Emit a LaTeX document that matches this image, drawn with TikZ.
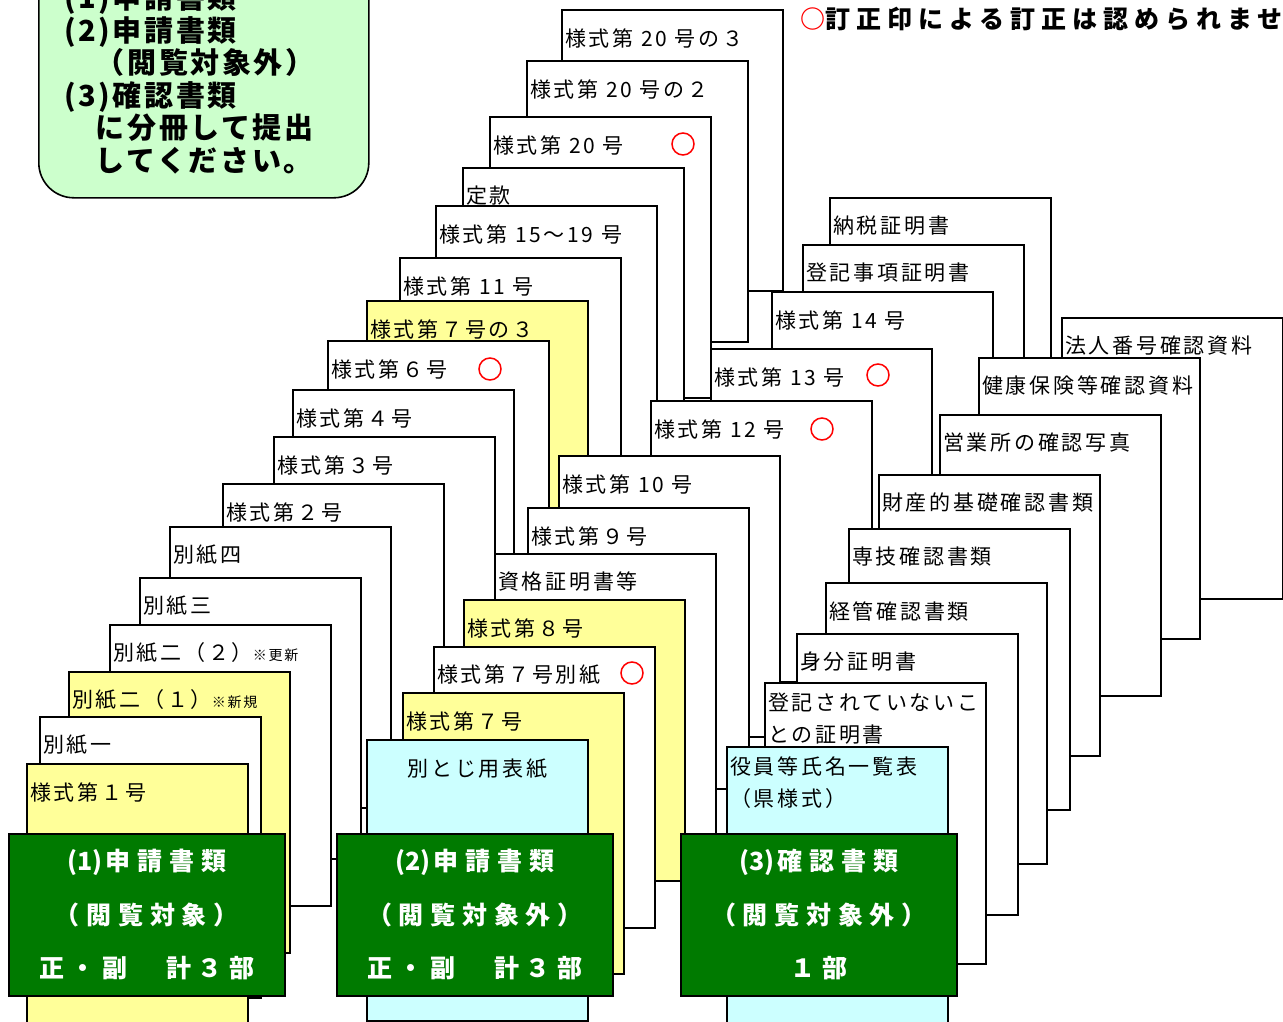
\documentclass[tikz,border=0pt]{standalone}
\usepackage{fontspec}
\setmainfont{Noto Sans CJK JP}
\newfontfamily\sheetfont[LetterSpace=13]{Noto Sans CJK JP}
\newfontfamily\coverfont[LetterSpace=27]{Noto Sans CJK JP}
\newfontfamily\tightfont{Noto Sans CJK JP}
\newfontfamily\notefont[LetterSpace=9]{Noto Sans CJK JP}
\newfontfamily\titlefont[LetterSpace=24]{Noto Sans CJK JP}
\usetikzlibrary{calc}
\definecolor{formyellow}{RGB}{255,255,153}
\definecolor{formcyan}{RGB}{204,255,255}
\definecolor{covergreen}{RGB}{0,122,0}
\definecolor{notegreen}{RGB}{204,255,204}
\newcommand{\smallnote}{\fontsize{14}{16}\selectfont}
\newcommand{\volno}[1]{{\tightfont\bfseries(#1)\hspace{3pt}}}
\tikzset{
  sheet/.style={draw, line width=1.6pt, anchor=north west, minimum width=221pt, minimum height=281pt, inner sep=0pt, outer sep=0pt},
  sheetlabel/.style={anchor=west, inner sep=0pt, align=left, font=\sheetfont\fontsize{21}{32}\selectfont},
  redring/.style={draw=red, line width=1.5pt, circle, minimum size=22pt, inner sep=0pt},
  cover/.style={draw, line width=1.6pt, fill=covergreen, anchor=north west, minimum width=276pt, minimum height=162pt, text=white, align=center, font=\coverfont\bfseries\fontsize{25}{53.5}\selectfont},
  notebox/.style={draw, line width=1.6pt, fill=notegreen, rounded corners=35pt, anchor=north west, minimum width=330pt, minimum height=237pt},
  notetext/.style={anchor=west, inner sep=0pt, align=left, font=\notefont\bfseries\fontsize{29}{32.5}\selectfont},
  titletext/.style={anchor=west, inner sep=0pt, font=\titlefont\bfseries\fontsize{25}{30}\selectfont}
}
% sheet: [label drop] name, x, y, fill, label
\newcommand{\drawsheet}[6][28]{%
  \node[sheet, fill=#5] (#2) at (#3,#4) {};
  \node[sheetlabel] (#2-label) at ([xshift=3pt, yshift=-#1pt]#2.north west) {#6};
}

\begin{document}
\begin{tikzpicture}[x=1pt, y=-1pt]
  \useasboundingbox (0,0) rectangle (1283,1022);

  \node[notebox] (note) at (38,-40) {};
  \node[notetext] (note-text) at (64,79) {(1)申請書類\\(2)申請書類\\　（閲覧対象外）\\(3)確認書類\\　に分冊して提出\\　してください。};
  \node[titletext] (notice) at (800,19) {\textcolor{red}{○}訂正印による訂正は認められませ};

  % sheets from back to front
  \drawsheet{f20c}{562}{10}{white}{様式第 20 号の３}
  \drawsheet{f20b}{527}{61}{white}{様式第 20 号の２}
  \drawsheet{f20}{490}{117}{white}{様式第 20 号}
  \drawsheet{teikan}{463}{168}{white}{定款}
  \drawsheet{nozei}{830}{198}{white}{納税証明書}
  \drawsheet{f15}{436}{206}{white}{様式第 15～19 号}
  \drawsheet{toki}{803}{245}{white}{登記事項証明書}
  \drawsheet{f11}{400}{258}{white}{様式第 11 号}
  \drawsheet{f14}{772}{292}{white}{様式第 14 号}
  \drawsheet{f7c}{367}{301}{formyellow}{様式第７号の３}
  \drawsheet{hojin}{1062}{318}{white}{法人番号確認資料}
  \drawsheet{f6}{328}{341}{white}{様式第６号}
  \drawsheet{f13}{711}{349}{white}{様式第 13 号}
  \drawsheet{kenpo}{979}{358}{white}{健康保険等確認資料}
  \drawsheet{f4}{293}{390}{white}{様式第４号}
  \drawsheet{f12}{651}{401}{white}{様式第 12 号}
  \drawsheet{eigyo}{940}{415}{white}{営業所の確認写真}
  \drawsheet{f3}{274}{437}{white}{様式第３号}
  \drawsheet{f10}{559}{456}{white}{様式第 10 号}
  \drawsheet{zaisan}{879}{475}{white}{財産的基礎確認書類}
  \drawsheet{f2}{223}{484}{white}{様式第２号}
  \drawsheet{f9}{528}{508}{white}{様式第９号}
  \drawsheet{annex4}{170}{527}{white}{別紙四}
  \drawsheet{sengi}{849}{529}{white}{専技確認書類}
  \drawsheet{shikaku}{495}{554}{white}{資格証明書等}
  \drawsheet{annex3}{140}{578}{white}{別紙三}
  \drawsheet{keikan}{826}{583}{white}{経管確認書類}
  \drawsheet{f8}{464}{600}{formyellow}{様式第８号}
  \drawsheet{annex2b}{110}{625}{white}{別紙二（２）{\smallnote ※更新}}
  \drawsheet{mibun}{797}{634}{white}{身分証明書}
  \drawsheet{f7annex}{434}{647}{white}{様式第７号別紙}
  \drawsheet{annex2a}{69}{672}{formyellow}{別紙二（１）{\smallnote ※新規}}
  \drawsheet[36]{hitoki}{765}{683}{white}{登記されていないこ\\との証明書}
  \drawsheet{f7}{403}{693}{formyellow}{様式第７号}
  \drawsheet{annex1}{40}{717}{white}{別紙一}
  \node[sheet, fill=formcyan] (binder) at (367,740) {};
  \node[sheetlabel, anchor=center] (binder-label) at ([yshift=-29pt]binder.north) {別とじ用表紙};
  \drawsheet[36]{yakuin}{727}{747}{formcyan}{役員等氏名一覧表\\（県様式）}
  \drawsheet{f1}{27}{764}{formyellow}{様式第１号}

  % no correction seal
  \node[redring] (ring20) at (683,144) {};
  \node[redring] (ring6) at (490,369) {};
  \node[redring] (ring13) at (878,375) {};
  \node[redring] (ring12) at (822,429) {};
  \node[redring] (ring7annex) at (632,673) {};

  \node[cover] (vol1) at (8,833) {\volno{1}申請書類\\（閲覧対象）\\正・副　計３部};
  \node[cover] (vol2) at (336,833) {\volno{2}申請書類\\（閲覧対象外）\\正・副　計３部};
  \node[cover] (vol3) at (680,833) {\volno{3}確認書類\\（閲覧対象外）\\１部};
\end{tikzpicture}
\end{document}
